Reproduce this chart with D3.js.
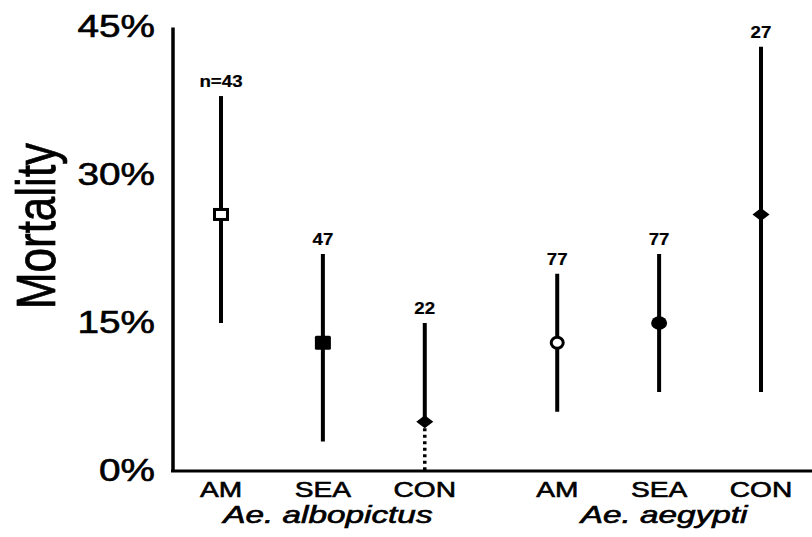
<!DOCTYPE html>
<html>
<head>
<meta charset="utf-8">
<script src="https://cdn.jsdelivr.net/npm/d3@7"></script>
<style>
  html, body { margin: 0; padding: 0; background: #fff; }
  svg { display: block; }
  text { font-family: "Liberation Sans", Arial, Helvetica, sans-serif; fill: #000; stroke: #000; stroke-width: 0.6px; }
</style>
</head>
<body>
<svg id="chart" width="812" height="537"></svg>
<script>
// ---- data ----
const species = ["Ae. albopictus", "Ae. aegypti"];
const populations = ["AM", "SEA", "CON"];
const groupOf = [0, 0, 0, 1, 1, 1];
const popOf = ["AM", "SEA", "CON", "AM", "SEA", "CON"];
const meanMortality = [26, 13, 5, 13, 15, 26];
const upperCI = [38, 22, 15, 20, 22, 43];
const lowerCI = [15, 3, 0, 6, 8, 8];
const lowerTruncated = [false, false, true, false, false, false];
const sampleLabels = ["n=43", "47", "22", "77", "77", "27"];
const yTicks = [0, 15, 30, 45];

// ---- layout ----
const svg = d3.select("#chart");
const W = 812, H = 537;
const axisX = 172.5, axisY = 471, topY = 27;
const groupGap = 0.3;
const slot = groupOf.map((g, i) => i + g * groupGap);

const x = d3.scaleLinear().domain([0, 5 + groupGap]).range([221, 761]);
const y = d3.scaleLinear().domain([0, 45]).range([axisY, topY]);

const SX = 1.25; // horizontal stretch of the original's lettering

// y axis
const yAxis = svg.append("g")
  .attr("transform", `translate(${axisX},0)`)
  .call(d3.axisLeft(y).tickValues(yTicks).tickFormat(d => d + "%").tickSize(0).tickPadding(0));
yAxis.select(".domain").attr("stroke", "#000").attr("stroke-width", 3.5);
yAxis.selectAll(".tick text")
  .attr("x", -14)
  .attr("dy", "0.31em")
  .attr("transform", `scale(${SX},1)`)
  .style("font-size", "31px")
  .style("font-family", "'Liberation Sans', Arial, sans-serif")
  .attr("fill", "#000");

// x axis line
svg.append("line")
  .attr("x1", axisX - 1.5).attr("x2", W)
  .attr("y1", axisY).attr("y2", axisY)
  .attr("stroke", "#000").attr("stroke-width", 3);

// y title
svg.append("text")
  .attr("transform", `translate(55,226) rotate(-90) scale(1,${SX})`)
  .attr("text-anchor", "middle")
  .style("font-size", "44px")
  .text("Mortality");

// category labels
svg.selectAll("text.pop").data(popOf).join("text")
  .attr("class", "pop")
  .attr("transform", (d, i) => `translate(${x(slot[i])},497) scale(${SX},1)`)
  .attr("text-anchor", "middle")
  .style("font-size", "22.5px")
  .text(d => d);

// species labels
species.forEach((s, g) => {
  const idx = groupOf.map((gg, i) => gg === g ? i : -1).filter(i => i >= 0);
  const cx = d3.mean(idx, i => x(slot[i])) + 5;
  svg.append("text")
    .attr("transform", `translate(${cx},523) scale(1.45,1)`)
    .attr("text-anchor", "middle")
    .style("font-size", "23px")
    .style("font-style", "italic")
    .text(s);
});

// error bars
const idxs = d3.range(meanMortality.length);
svg.selectAll("line.ci").data(idxs).join("line")
  .attr("class", "ci")
  .attr("x1", i => x(slot[i])).attr("x2", i => x(slot[i]))
  .attr("y1", i => y(upperCI[i]))
  .attr("y2", i => lowerTruncated[i] ? y(meanMortality[i]) : y(lowerCI[i]))
  .attr("stroke", "#000").attr("stroke-width", 4);

svg.selectAll("line.trunc").data(idxs.filter(i => lowerTruncated[i])).join("line")
  .attr("class", "trunc")
  .attr("x1", i => x(slot[i])).attr("x2", i => x(slot[i]))
  .attr("y1", i => y(meanMortality[i]))
  .attr("y2", i => y(lowerCI[i]))
  .attr("stroke", "#000").attr("stroke-width", 3.5)
  .attr("stroke-dasharray", "3,3.5");

// markers (shape by population & species)
const markerStyle = {
  "0|AM": "squareOpen", "0|SEA": "square", "0|CON": "diamond",
  "1|AM": "circleOpen", "1|SEA": "circle", "1|CON": "diamond"
};
idxs.forEach(i => {
  const cx = x(slot[i]), cy = y(meanMortality[i]);
  const kind = markerStyle[groupOf[i] + "|" + popOf[i]];
  if (kind === "squareOpen") {
    svg.append("rect").attr("x", cx - 6.5).attr("y", cy - 5).attr("width", 13).attr("height", 10)
      .attr("fill", "#fff").attr("stroke", "#000").attr("stroke-width", 3);
  } else if (kind === "square") {
    svg.append("rect").attr("x", cx - 8).attr("y", cy - 7).attr("width", 16).attr("height", 14)
      .attr("rx", 1.5).attr("fill", "#000");
  } else if (kind === "diamond") {
    svg.append("path")
      .attr("d", `M${cx - 8.5},${cy}L${cx},${cy - 6.5}L${cx + 8.5},${cy}L${cx},${cy + 6.5}Z`)
      .attr("fill", "#000");
  } else if (kind === "circleOpen") {
    svg.append("ellipse").attr("cx", cx).attr("cy", cy).attr("rx", 6).attr("ry", 5.5)
      .attr("fill", "#fff").attr("stroke", "#000").attr("stroke-width", 3);
  } else if (kind === "circle") {
    svg.append("ellipse").attr("cx", cx).attr("cy", cy).attr("rx", 8).attr("ry", 6.8)
      .attr("fill", "#000");
  }
});

// sample size labels
svg.selectAll("text.n").data(idxs).join("text")
  .attr("class", "n")
  .attr("transform", i => `translate(${x(slot[i])},${y(upperCI[i]) - 9}) scale(1.1,1)`)
  .attr("text-anchor", "middle")
  .style("font-size", "17px")
  .style("font-weight", "bold")
  .style("stroke-width", "0.2px")
  .text(i => sampleLabels[i]);
</script>
</body>
</html>
